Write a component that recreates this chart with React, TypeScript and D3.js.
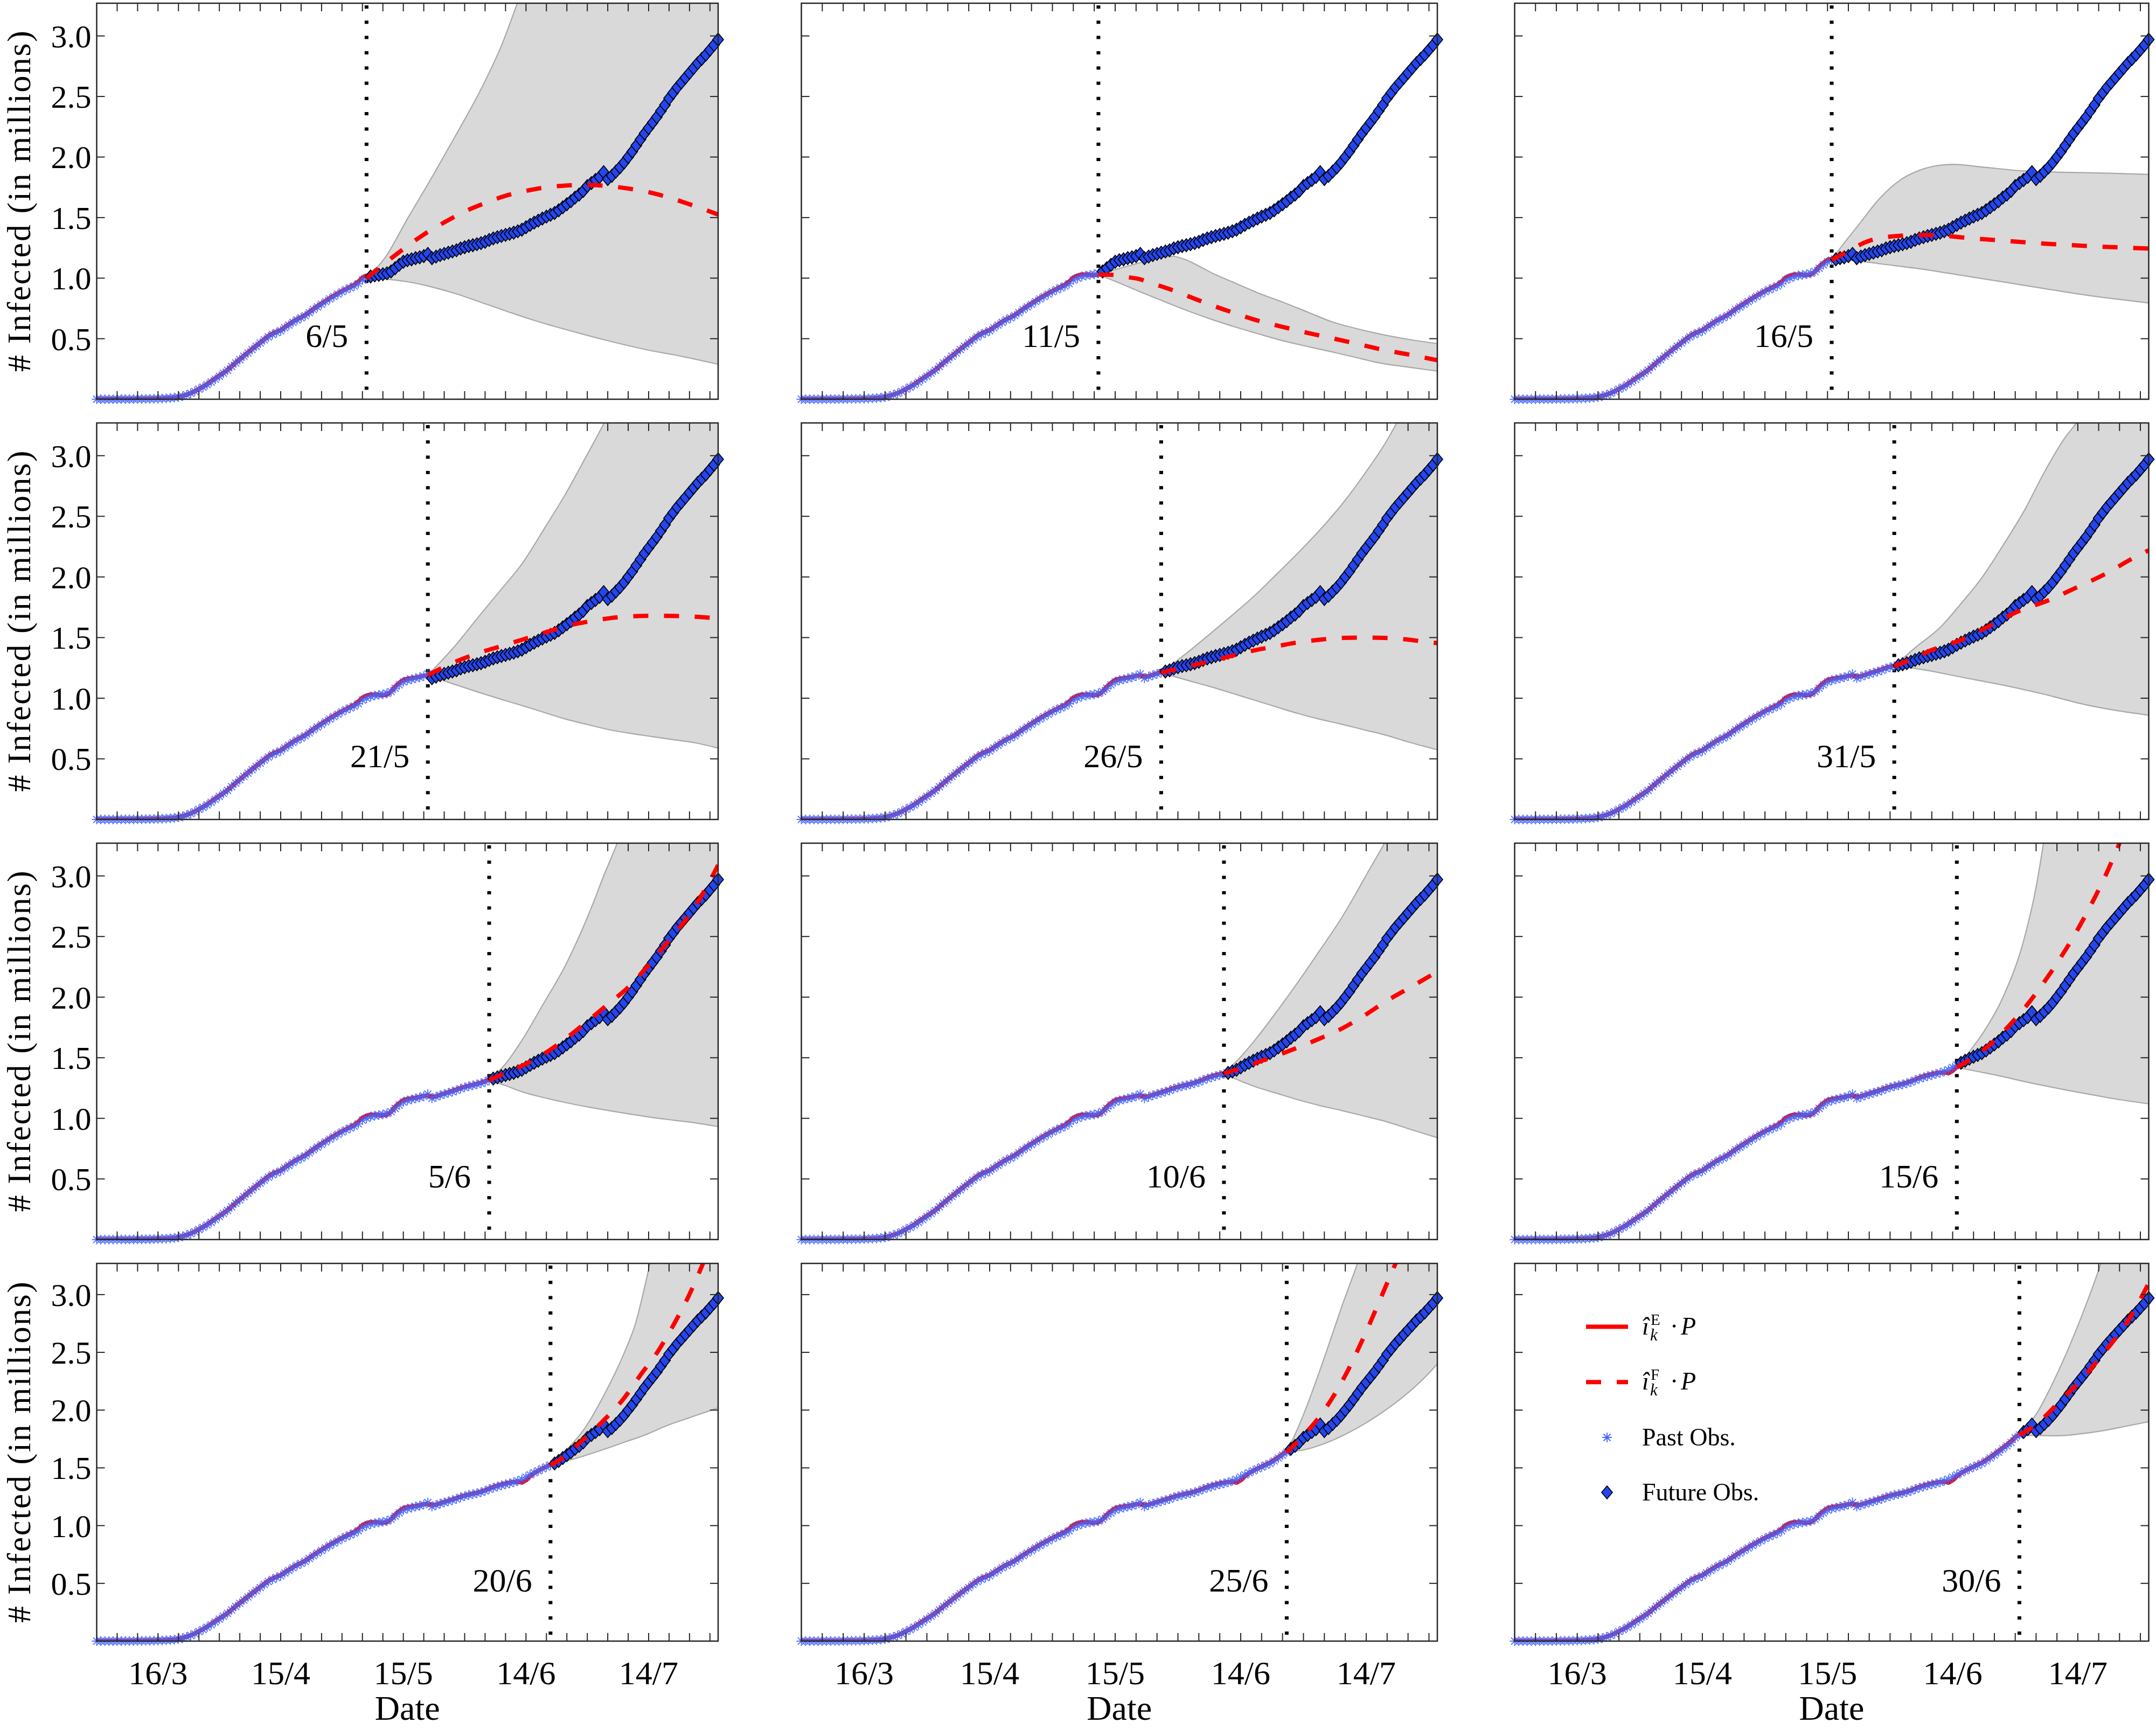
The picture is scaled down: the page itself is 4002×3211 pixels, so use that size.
import React from "react";
import * as d3 from "d3";

// ---------------- DATA ----------------
// day index 0 = 1 March, 152 = 31 July ; values in millions
const observed = [
  0.000, 0.000, 0.000, 0.000, 0.000, 0.000, 0.001, 0.001, 0.001, 0.001,
  0.002, 0.002, 0.003, 0.003, 0.004, 0.005, 0.006, 0.008, 0.010, 0.013,
  0.018, 0.026, 0.036, 0.048, 0.064, 0.083, 0.100, 0.120, 0.142, 0.165,
  0.190, 0.215, 0.240, 0.270, 0.300, 0.327, 0.355, 0.382, 0.410, 0.437,
  0.464, 0.490, 0.515, 0.535, 0.550, 0.565, 0.590, 0.612, 0.635, 0.655,
  0.672, 0.690, 0.715, 0.740, 0.762, 0.784, 0.806, 0.828, 0.848, 0.868,
  0.888, 0.905, 0.920, 0.935, 0.955, 0.985, 1.000, 1.014, 1.022, 1.027,
  1.032, 1.040, 1.055, 1.082, 1.110, 1.135, 1.148, 1.155, 1.165, 1.172,
  1.182, 1.200, 1.165, 1.178, 1.190, 1.200, 1.210, 1.220, 1.230, 1.245,
  1.255, 1.265, 1.272, 1.280, 1.289, 1.300, 1.315, 1.328, 1.338, 1.348,
  1.357, 1.366, 1.375, 1.387, 1.400, 1.420, 1.440, 1.458, 1.475, 1.492,
  1.508, 1.523, 1.538, 1.560, 1.585, 1.610, 1.635, 1.665, 1.690, 1.720,
  1.760, 1.785, 1.810, 1.835, 1.875, 1.818, 1.845, 1.880, 1.915, 1.955,
  2.000, 2.045, 2.095, 2.145, 2.195, 2.240, 2.285, 2.330, 2.380, 2.430,
  2.485, 2.530, 2.575, 2.615, 2.655, 2.695, 2.735, 2.775, 2.810, 2.845,
  2.885, 2.925, 2.970,
];

const estimated = [
  0.000, 0.000, 0.000, 0.000, 0.000, 0.000, 0.001, 0.001, 0.001, 0.001,
  0.002, 0.002, 0.003, 0.003, 0.004, 0.005, 0.006, 0.008, 0.010, 0.013,
  0.018, 0.027, 0.038, 0.050, 0.066, 0.085, 0.103, 0.124, 0.148, 0.172,
  0.195, 0.217, 0.242, 0.272, 0.302, 0.330, 0.358, 0.386, 0.414, 0.441,
  0.468, 0.495, 0.522, 0.542, 0.557, 0.570, 0.594, 0.617, 0.640, 0.660,
  0.676, 0.695, 0.720, 0.745, 0.768, 0.790, 0.812, 0.834, 0.854, 0.874,
  0.893, 0.910, 0.928, 0.945, 0.972, 1.005, 1.022, 1.030, 1.030, 1.028,
  1.025, 1.030, 1.055, 1.095, 1.125, 1.150, 1.160, 1.165, 1.170, 1.175,
  1.185, 1.190, 1.175, 1.182, 1.193, 1.204, 1.215, 1.226, 1.238, 1.250,
  1.260, 1.268, 1.276, 1.284, 1.294, 1.306, 1.320, 1.334, 1.346, 1.356,
  1.365, 1.372, 1.378, 1.380, 1.372, 1.392, 1.428, 1.455, 1.475, 1.494,
  1.510, 1.528, 1.545, 1.568, 1.592, 1.618, 1.645, 1.672, 1.700, 1.730,
  1.765, 1.790,
];

const forecastDays = [66, 71, 76, 81, 86, 91, 96, 101, 106, 111, 116, 121];
const forecastLabels = ["6/5", "11/5", "16/5", "21/5", "26/5", "31/5", "5/6", "10/6", "15/6", "20/6", "25/6", "30/6"];
const xTickDays = [15, 45, 75, 105, 135];
const xTickLabels = ["16/3", "15/4", "15/5", "14/6", "14/7"];
const yTickValues = [0.5, 1.0, 1.5, 2.0, 2.5, 3.0];
const yTickLabels = ["0.5", "1.0", "1.5", "2.0", "2.5", "3.0"];

// forecast means [day, value]
const mean0605 = [[66, 1.0], [70, 1.11], [75, 1.24], [80, 1.36], [85, 1.46], [90, 1.55], [95, 1.62], [100, 1.68], [105, 1.72], [110, 1.75], [115, 1.765], [120, 1.77], [125, 1.76], [130, 1.74], [135, 1.71], [140, 1.665], [145, 1.61], [152, 1.525]];
const mean1105 = [[71, 1.03], [74.4, 1.027], [77.5, 1.01], [80.7, 0.993], [84, 0.955], [87.6, 0.914], [91, 0.87], [94.5, 0.823], [99, 0.765], [103.7, 0.709], [109, 0.65], [115.2, 0.596], [121, 0.548], [126.7, 0.505], [132.5, 0.46], [138.2, 0.414], [145, 0.37], [152, 0.322]];
const mean1605 = [[76, 1.15], [79.6, 1.216], [84.5, 1.302], [90.5, 1.345], [97.4, 1.356], [102.3, 1.352], [107.3, 1.336], [117.2, 1.309], [127, 1.285], [136.9, 1.266], [152, 1.244]];
const mean2105 = [[81, 1.19], [87, 1.29], [93.6, 1.375], [99, 1.43], [104.2, 1.484], [109.5, 1.54], [114.7, 1.593], [120, 1.63], [125.3, 1.659], [130.5, 1.675], [135.8, 1.68], [141, 1.678], [146.4, 1.672], [152, 1.659]];
const mean2605 = [[86, 1.21], [92, 1.26], [98.3, 1.309], [103.5, 1.355], [108.6, 1.397], [113.8, 1.43], [118.9, 1.462], [124, 1.483], [129.2, 1.497], [134.4, 1.5], [139.5, 1.497], [144.6, 1.485], [149.8, 1.462], [152, 1.455]];
const mean3105 = [[91, 1.265], [95, 1.32], [99.8, 1.395], [107.4, 1.486], [113.7, 1.594], [120.9, 1.719], [127.8, 1.805], [134.7, 1.913], [141.6, 2.025], [148.2, 2.154], [152, 2.22]];
const mean0506 = [[96, 1.315], [100, 1.375], [105, 1.45], [110, 1.545], [115, 1.665], [120, 1.8], [125, 1.94], [130, 2.08], [135, 2.265], [140, 2.47], [145, 2.68], [150, 2.96], [152, 3.09]];
const mean1006 = [[101, 1.37], [104.8, 1.41], [108.6, 1.457], [113.8, 1.52], [118.9, 1.588], [124, 1.66], [129.2, 1.741], [134.4, 1.845], [139.5, 1.96], [145.5, 2.08], [152, 2.21]];
const mean1506 = [[106, 1.42], [110, 1.505], [114, 1.61], [118, 1.745], [122, 1.9], [126, 2.08], [130, 2.28], [134, 2.5], [138, 2.75], [142, 3.03], [145, 3.27], [152, 3.9]];
const mean2006 = [[111, 1.525], [112.7, 1.557], [118.5, 1.728], [123.8, 1.904], [128.8, 2.095], [133.2, 2.313], [137.5, 2.521], [141.3, 2.751], [144.8, 2.988], [148.3, 3.27], [152, 3.6]];
const mean2506 = [[116, 1.635], [120, 1.78], [125, 2.0], [130, 2.3], [135, 2.68], [140, 3.1], [143.5, 3.4], [152, 4.3]];
const mean3006 = [[121, 1.785], [124, 1.85], [127, 1.94], [131, 2.09], [135.8, 2.26], [140, 2.44], [144, 2.62], [148, 2.83], [152, 3.1]];

// uncertainty band upper edges
const upper0605 = [[66, 1.0], [70.4, 1.163], [76, 1.49], [82.2, 1.845], [88, 2.19], [94, 2.56], [99, 2.92], [103, 3.28], [110, 3.9], [152, 7.0]];
const upper1105 = [[71, 1.03], [76, 1.08], [80.7, 1.125], [85, 1.168], [88.8, 1.18], [92, 1.15], [95, 1.1], [98, 1.045], [103.7, 0.959], [109, 0.88], [115.2, 0.8], [121, 0.72], [126.7, 0.641], [132.5, 0.585], [138.2, 0.539], [145, 0.495], [152, 0.459]];
const upper1605 = [[76, 1.15], [77.6, 1.227], [82.5, 1.442], [87.5, 1.658], [92.4, 1.809], [97.4, 1.895], [102.3, 1.934], [105.3, 1.939], [112.2, 1.917], [122.1, 1.885], [131.9, 1.874], [141.8, 1.867], [152, 1.857]];
const upper2105 = [[81, 1.19], [87.3, 1.418], [93.6, 1.68], [99, 1.9], [104.2, 2.117], [109.5, 2.4], [114.7, 2.686], [119.5, 2.98], [124.2, 3.276], [130, 3.7], [152, 6.0]];
const upper2605 = [[86, 1.21], [92, 1.37], [98.3, 1.549], [103.5, 1.7], [108.6, 1.855], [113.8, 2.03], [118.9, 2.205], [124, 2.39], [129.2, 2.599], [134.4, 2.84], [139.5, 3.1], [142.3, 3.27], [152, 4.0]];
const upper3105 = [[91, 1.265], [95.4, 1.399], [102.3, 1.594], [107.2, 1.788], [112.2, 2.003], [117.1, 2.262], [122.1, 2.543], [127, 2.866], [131.9, 3.147], [134.9, 3.28], [142, 3.7], [152, 4.5]];
const upper0506 = [[96, 1.315], [100, 1.45], [104.2, 1.654], [109, 1.93], [114.7, 2.266], [118, 2.5], [121.1, 2.747], [124, 3.0], [127.4, 3.28], [135, 4.2], [152, 7.0]];
const upper1006 = [[101, 1.37], [104.8, 1.5], [108.6, 1.654], [113.8, 1.89], [118.9, 2.134], [124, 2.39], [129.2, 2.659], [132.3, 2.84], [135.4, 3.031], [139.5, 3.28], [145, 3.7], [152, 4.3]];
const upper1506 = [[106, 1.42], [109, 1.55], [112.2, 1.7], [117.1, 2.002], [122.1, 2.477], [125, 2.908], [126.8, 3.275], [130, 4.0], [152, 9.0]];
const upper2006 = [[111, 1.525], [114.2, 1.631], [119.2, 1.834], [124.3, 2.145], [129.3, 2.518], [131.8, 2.751], [134.3, 3.109], [135.4, 3.28], [140, 4.0], [152, 6.0]];
const upper2506 = [[116, 1.635], [118, 1.79], [120, 1.96], [123, 2.25], [126, 2.56], [129, 2.88], [133, 3.28], [140, 4.1], [152, 6.0]];
const upper3006 = [[121, 1.785], [125, 1.963], [130.4, 2.343], [135.8, 2.803], [140.6, 3.278], [145, 3.8], [152, 5.0]];

// uncertainty band lower edges
const lower0605 = [[66, 1.0], [70.5, 0.993], [76, 0.97], [82.2, 0.925], [88, 0.87], [94, 0.8], [100, 0.73], [105.8, 0.664], [111.6, 0.605], [117.5, 0.55], [123.4, 0.497], [129.3, 0.448], [135, 0.405], [141, 0.368], [146.5, 0.33], [152, 0.289]];
const lower1105 = [[71, 1.03], [76, 0.96], [80.7, 0.891], [86.5, 0.81], [92.2, 0.732], [98, 0.66], [103.7, 0.596], [109.5, 0.537], [115.2, 0.482], [121, 0.435], [126.7, 0.392], [132.5, 0.345], [138.2, 0.3], [145, 0.265], [152, 0.232]];
const lower1605 = [[76, 1.15], [82.5, 1.141], [87.5, 1.119], [97.4, 1.076], [107.3, 1.022], [117.2, 0.968], [127, 0.914], [136.9, 0.86], [152, 0.795]];
const lower2105 = [[81, 1.19], [87, 1.12], [93.6, 1.047], [99, 0.99], [104.2, 0.938], [109.5, 0.882], [114.7, 0.828], [120, 0.783], [125.3, 0.741], [130.5, 0.71], [135.8, 0.684], [141, 0.658], [146.4, 0.632], [152, 0.588]];
const lower2605 = [[86, 1.21], [92, 1.15], [98.3, 1.09], [103.5, 1.035], [108.6, 0.981], [113.8, 0.925], [118.9, 0.872], [124, 0.826], [129.2, 0.785], [134.4, 0.74], [139.5, 0.697], [145, 0.64], [152, 0.575]];
const lower3105 = [[91, 1.265], [97.4, 1.238], [107.2, 1.173], [117.1, 1.108], [127, 1.032], [136.9, 0.946], [144, 0.9], [152, 0.86]];
const lower0506 = [[96, 1.315], [100, 1.27], [104.2, 1.217], [109.5, 1.17], [114.7, 1.13], [120, 1.095], [125.3, 1.064], [130.5, 1.035], [135.8, 1.007], [141, 0.985], [146.4, 0.963], [152, 0.932]];
const lower1006 = [[101, 1.37], [104.8, 1.31], [108.6, 1.26], [113.8, 1.205], [118.9, 1.151], [124, 1.105], [129.2, 1.064], [134.4, 1.02], [139.5, 0.976], [145.5, 0.91], [152, 0.84]];
const lower1506 = [[106, 1.42], [112, 1.38], [117.1, 1.344], [122, 1.305], [127, 1.269], [132, 1.235], [136.9, 1.204], [144, 1.16], [152, 1.12]];
const lower2006 = [[111, 1.525], [116.7, 1.577], [124.3, 1.663], [129.3, 1.725], [134.3, 1.787], [139.4, 1.865], [144.4, 1.927], [149.5, 1.989], [152, 2.02]];
const lower2506 = [[116, 1.635], [120, 1.655], [125, 1.71], [130, 1.79], [135, 1.89], [140, 2.01], [145, 2.15], [150, 2.32], [152, 2.4]];
const lower3006 = [[121, 1.785], [125, 1.78], [130.4, 1.778], [135.8, 1.795], [141.1, 1.822], [146.5, 1.86], [152, 1.9]];

const forecastMeans = [mean0605, mean1105, mean1605, mean2105, mean2605, mean3105, mean0506, mean1006, mean1506, mean2006, mean2506, mean3006];
const bandUppers = [upper0605, upper1105, upper1605, upper2105, upper2605, upper3105, upper0506, upper1006, upper1506, upper2006, upper2506, upper3006];
const bandLowers = [lower0605, lower1105, lower1605, lower2105, lower2605, lower3105, lower0506, lower1006, lower1506, lower2006, lower2506, lower3006];

const legendLabels = ["Past Obs.", "Future Obs."];

// ---------------- LAYOUT ----------------
const W = 4002;
const H = 3211;
const colLeft = [179.5, 1487.5, 2811.5];
const colRight = [1333, 2668, 3988.5];
const rowTop = [6, 785, 1565, 2345];
const rowBottom = [741, 1521, 2300.7, 3046];
const X_MAX = 152;
const Y_MAX = 3.27;
const FONT = "'Liberation Serif', 'Times New Roman', serif";
const AXIS_COLOR = "#262626";
const RED = "#ff0000";
const DIAMOND_FILL = "#2446ee";
const STAR_COLOR = "#4466ff";
const BAND_FILL = "#d9d9d9";
const BAND_EDGE = "#a8a8a8";
const TICK_LEN = 15;
const DASH = "28 29";

function starPath(r: number) {
  const q = r * 0.72;
  return `M${-r},0L${r},0M0,${-r}L0,${r}M${-q},${-q}L${q},${q}M${-q},${q}L${q},${-q}`;
}
function diamondPath(w: number, h: number) {
  return `M0,${-h}L${w},0L0,${h}L${-w},0Z`;
}
const STAR = starPath(9);
const DIAMOND = diamondPath(10, 12);

function Panel({ idx }: { idx: number }) {
  const r = Math.floor(idx / 3);
  const c = idx % 3;
  const L = colLeft[c], R = colRight[c], T = rowTop[r], B = rowBottom[r];
  const x = d3.scaleLinear().domain([0, X_MAX]).range([L, R]);
  const y = d3.scaleLinear().domain([0, Y_MAX]).range([B, T]);
  const fd = forecastDays[idx];

  const smooth = d3
    .line<number[]>()
    .x((d) => x(d[0]))
    .y((d) => y(d[1]))
    .curve(d3.curveMonotoneX);
  const straight = d3
    .line<number[]>()
    .x((d) => x(d[0]))
    .y((d) => y(d[1]));

  const upper = bandUppers[idx];
  const lower = bandLowers[idx];
  const upperPath = smooth(upper) || "";
  const lowerPath = smooth(lower) || "";
  const lowerRev = smooth(lower.slice().reverse()) || "";
  const bandPath = upperPath + "L" + lowerRev.slice(1) + "Z";
  const meanPath = smooth(forecastMeans[idx]) || "";

  const estPts = estimated.slice(0, fd + 1).map((v, i) => [i, v]);
  const estPath = straight(estPts) || "";

  const pastObs = observed.slice(0, fd + 1).map((v, i) => [i, v]);
  const futureObs = observed.map((v, i) => [i, v]).filter((d) => d[0] > fd);

  const clipId = `clip-${idx}`;
  const xTicks = d3.range(5, X_MAX, 5);

  return (
    <g>
      <defs>
        <clipPath id={clipId}>
          <rect x={L} y={T} width={R - L} height={B - T} />
        </clipPath>
      </defs>
      <rect x={L} y={T} width={R - L} height={B - T} fill="#ffffff" />
      <g clipPath={`url(#${clipId})`}>
        <path d={bandPath} fill={BAND_FILL} stroke="none" />
        <path d={upperPath} fill="none" stroke={BAND_EDGE} strokeWidth={2.2} />
        <path d={lowerPath} fill="none" stroke={BAND_EDGE} strokeWidth={2.2} />
        <line x1={x(fd)} x2={x(fd)} y1={T + 4} y2={B} stroke="#000" strokeWidth={7} strokeDasharray="6 22.3" />
        <path d={estPath} fill="none" stroke={RED} strokeWidth={8} strokeLinejoin="round" />
      </g>
      {/* past observations */}
      <g stroke={STAR_COLOR} strokeWidth={1.9} fill="none" opacity={0.9}>
        {pastObs.map((d) => (
          <path key={d[0]} d={STAR} transform={`translate(${x(d[0])},${y(d[1])})`} />
        ))}
      </g>
      {/* future observations */}
      <g fill={DIAMOND_FILL} stroke="#000" strokeWidth={1.7}>
        {futureObs.map((d) => (
          <path key={d[0]} d={DIAMOND} transform={`translate(${x(d[0])},${y(d[1])})`} />
        ))}
      </g>
      <g clipPath={`url(#${clipId})`}>
        <path d={meanPath} fill="none" stroke={RED} strokeWidth={8} strokeDasharray={DASH} />
      </g>
      {/* forecast date label */}
      <text x={x(fd) - 34} y={y(0.43)} textAnchor="end" fontFamily={FONT} fontSize={62} fill="#000">
        {forecastLabels[idx]}
      </text>
      {/* axes box */}
      <rect x={L} y={T} width={R - L} height={B - T} fill="none" stroke={AXIS_COLOR} strokeWidth={2.5} />
      {/* ticks */}
      <g stroke={AXIS_COLOR} strokeWidth={2}>
        {xTicks.map((t) => (
          <g key={t}>
            <line x1={x(t)} x2={x(t)} y1={B} y2={B - TICK_LEN} />
            <line x1={x(t)} x2={x(t)} y1={T} y2={T + TICK_LEN} />
          </g>
        ))}
        {yTickValues.map((t) => (
          <g key={t}>
            <line x1={L} x2={L + TICK_LEN} y1={y(t)} y2={y(t)} />
            <line x1={R} x2={R - TICK_LEN} y1={y(t)} y2={y(t)} />
          </g>
        ))}
      </g>
      {c === 0 &&
        yTickValues.map((t, i) => (
          <text key={t} x={L - 10} y={y(t)} dy="0.35em" textAnchor="end" fontFamily={FONT} fontSize={60} fill="#000">
            {yTickLabels[i]}
          </text>
        ))}
      {c === 0 && (
        <text
          transform={`translate(56,${(T + B) / 2}) rotate(-90)`}
          textAnchor="middle"
          fontFamily={FONT}
          fontSize={62}
          fill="#000"
          textLength={633}
          lengthAdjust="spacing"
        >
          # Infected (in millions)
        </text>
      )}
      {r === 3 &&
        xTickDays.map((t, i) => (
          <text key={t} x={x(t)} y={B + 80} textAnchor="middle" fontFamily={FONT} fontSize={62} fill="#000">
            {xTickLabels[i]}
          </text>
        ))}
      {r === 3 && (
        <text x={(L + R) / 2} y={3192} textAnchor="middle" fontFamily={FONT} fontSize={64} fill="#000">
          Date
        </text>
      )}
    </g>
  );
}

function Legend() {
  const lx1 = 2944, lx2 = 3022, mx = 2983, tx = 3048;
  const rows = [2462.6, 2565.2, 2668, 2770];
  const mathRow = (yc: number, sup: string, dashed: boolean) => (
    <g>
      <line x1={lx1} x2={lx2} y1={yc} y2={yc} stroke={RED} strokeWidth={8} strokeDasharray={dashed ? "28 29" : undefined} />
      <text x={tx} y={yc + 14} fontFamily={FONT} fontSize={46} fontStyle="italic" fill="#000">î</text>
      <text x={tx + 16} y={yc - 4} fontFamily={FONT} fontSize={29} fill="#000">{sup}</text>
      <text x={tx + 15} y={yc + 25} fontFamily={FONT} fontSize={31} fontStyle="italic" fill="#000">k</text>
      <text x={tx + 52} y={yc + 14} fontFamily={FONT} fontSize={46} fill="#000">·</text>
      <text x={tx + 72} y={yc + 14} fontFamily={FONT} fontSize={46} fontStyle="italic" fill="#000">P</text>
    </g>
  );
  return (
    <g>
      {mathRow(rows[0], "E", false)}
      {mathRow(rows[1], "F", true)}
      <path d={STAR} transform={`translate(${mx},${rows[2]})`} stroke={STAR_COLOR} strokeWidth={1.9} fill="none" />
      <text x={tx} y={rows[2] + 15} fontFamily={FONT} fontSize={46} fill="#000">{legendLabels[0]}</text>
      <path d={DIAMOND} transform={`translate(${mx},${rows[3]})`} fill={DIAMOND_FILL} stroke="#000" strokeWidth={1.7} />
      <text x={tx} y={rows[3] + 15} fontFamily={FONT} fontSize={46} fill="#000">{legendLabels[1]}</text>
    </g>
  );
}

export default function App() {
  return (
    <svg
      width={W}
      height={H}
      viewBox={`0 0 ${W} ${H}`}
      style={{ position: "absolute", left: 0, top: 0, display: "block", background: "#fff" }}
    >
      <rect x={0} y={0} width={W} height={H} fill="#ffffff" />
      {forecastDays.map((_, i) => (
        <Panel key={i} idx={i} />
      ))}
      <Legend />
    </svg>
  );
}
